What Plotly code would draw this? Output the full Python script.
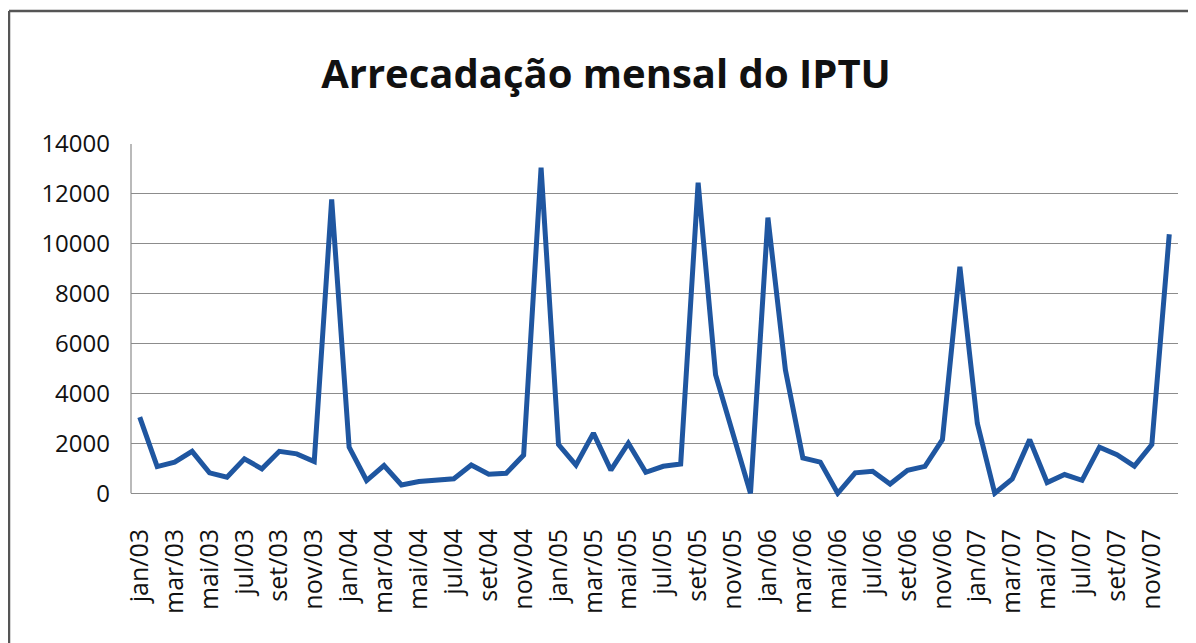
import plotly.graph_objects as go

categories = [
    "jan/03", "fev/03", "mar/03", "abr/03", "mai/03", "jun/03", "jul/03", "ago/03", "set/03", "out/03", "nov/03", "dez/03",
    "jan/04", "fev/04", "mar/04", "abr/04", "mai/04", "jun/04", "jul/04", "ago/04", "set/04", "out/04", "nov/04", "dez/04",
    "jan/05", "fev/05", "mar/05", "abr/05", "mai/05", "jun/05", "jul/05", "ago/05", "set/05", "out/05", "nov/05", "dez/05",
    "jan/06", "fev/06", "mar/06", "abr/06", "mai/06", "jun/06", "jul/06", "ago/06", "set/06", "out/06", "nov/06", "dez/06",
    "jan/07", "fev/07", "mar/07", "abr/07", "mai/07", "jun/07", "jul/07", "ago/07", "set/07", "out/07", "nov/07", "dez/07",
]

iptu = [
    3050, 1070, 1250, 1680, 820, 640, 1380, 980, 1680, 1580, 1270, 11780,
    1850, 510, 1110, 330, 470, 530, 580, 1130, 760, 800, 1530, 13050,
    1950, 1130, 2410, 930, 2010, 840, 1080, 1170, 12450, 4750, 2330, 0,
    11050, 4950, 1420, 1250, 0, 820, 880, 370, 920, 1080, 2150, 9080,
    2800, 0, 570, 2150, 430, 750, 520, 1850, 1550, 1090, 1950, 10380,
]

y_ticks = [0, 2000, 4000, 6000, 8000, 10000, 12000, 14000]
y_tick_labels = ["0", "2000", "4000", "6000", "8000", "10000", "12000", "14000"]
title_text = "Arrecadação mensal do IPTU"

# the page body adds an 8px margin, so the figure is sized to the window minus it
W, H = 1188, 635
L, R, T, B = 123, 18, 136, 146
pw, ph = W - L - R, H - T - B

x_idx = list(range(len(categories)))
tick_idx = x_idx[::2]
tick_txt = categories[::2]

fig = go.Figure()
fig.add_trace(go.Scatter(
    x=x_idx, y=iptu, mode="lines",
    line=dict(color="#1F56A0", width=5),
    showlegend=False, hoverinfo="skip",
))

font_fam = "Open Sans, Noto Sans, sans-serif"

fig.update_layout(
    width=W, height=H,
    margin=dict(l=L, r=R, t=T, b=B),
    paper_bgcolor="white", plot_bgcolor="white",
    title=dict(
        text="<b>" + title_text + "</b>",
        x=598 / W, xanchor="center",
        y=1 - 66 / H, yanchor="middle", yref="container",
        font=dict(family=font_fam, size=40, color="#111111"),
    ),
    xaxis=dict(
        range=[-0.5, len(categories) - 0.5],
        tickmode="array", tickvals=tick_idx, ticktext=tick_txt,
        tickangle=-90, showgrid=False, zeroline=False, showline=False,
        ticks="", ticklabelstandoff=26,
        tickfont=dict(family=font_fam, size=25, color="#111111"),
    ),
    yaxis=dict(
        range=[-150, 14000],
        tickmode="array", tickvals=y_ticks, ticktext=y_tick_labels,
        showgrid=True, gridcolor="#8c8c8c", gridwidth=1.2,
        zeroline=False, showline=False, ticks="",
        ticklabelstandoff=20,
        tickfont=dict(family=font_fam, size=24, color="#111111"),
    ),
)

# left axis line of the plot area (from 0 to 14000)
fig.add_shape(type="line", xref="paper", yref="y", x0=0, x1=0, y0=0, y1=14000,
              line=dict(color="#8c8c8c", width=1.2))

# outer chart-area border (top and left visible)
def px_x(p):
    return (p - L) / pw

def px_y(p):
    return (H - B - p) / ph

fig.add_shape(type="line", xref="paper", yref="paper",
              x0=px_x(1), x1=px_x(W + 5), y0=px_y(3), y1=px_y(3),
              line=dict(color="#555555", width=2.5))
fig.add_shape(type="line", xref="paper", yref="paper",
              x0=px_x(1), x1=px_x(1), y0=px_y(3), y1=px_y(H + 5),
              line=dict(color="#555555", width=2.5))

fig.write_html("out.html")
